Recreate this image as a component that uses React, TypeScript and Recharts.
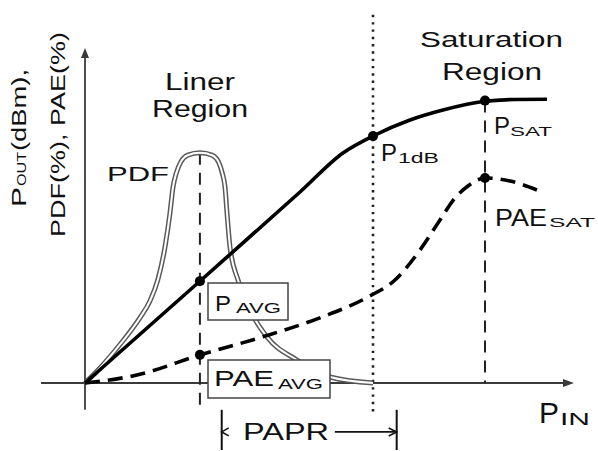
import React from "react";
import { ComposedChart, Line, XAxis, YAxis, ReferenceLine, ReferenceDot } from "recharts";

// Input power (x) in arbitrary units 0..100, output/efficiency/pdf (y) in arbitrary units 0..100
const poutX = [0, 23.31, 43.97, 52.76, 58.9, 66.46, 73.21, 81.39, 87.93, 94.48];
const poutY = [0, 30.15, 57.01, 68.66, 73.73, 78.51, 81.49, 84.03, 84.63, 84.69];

const paeX = [0, 10.63, 23.52, 36.2, 48.47, 57.87, 63.39, 68.51, 72.6, 75.66, 78.32, 81.8, 86.91, 92.43];
const paeY = [0, 2.39, 8.36, 13.73, 19.7, 25.67, 30.75, 39.7, 48.66, 55.22, 58.81, 61.19, 60.3, 57.61];

const pdfX = [0, 3.07, 7.16, 11.25, 13.29, 14.93, 16.36, 17.38, 18.0, 18.7, 19.6, 21.0, 23.52, 26.0, 27.3, 28.1, 28.63, 29.04, 29.65, 31.29, 33.74, 37.22, 43.35, 50.1, 58.9];
const pdfY = [0, 4.5, 11.5, 19.5, 24.5, 31.0, 40.6, 50.75, 58.5, 62.8, 66.0, 68.0, 68.7, 68.0, 66.0, 62.5, 58.5, 50.75, 40.6, 30.75, 21.79, 13.73, 6.87, 1.79, 0];

// marked points: P_AVG, PAE_AVG, P_1dB, P_SAT, PAE_SAT
const markerX = [23.5, 23.5, 58.9, 81.8, 81.8];
const markerY = [30.4, 8.4, 73.7, 84.3, 61.2];

const AVG_X = 23.5;
const P1DB_X = 58.9;
const SAT_X = 81.8;
const PDF_PEAK = 68.7;
const PAPR_FROM = 27.96;
const PAPR_TO = 63.74;

const zip = (xs: number[], ys: number[]) => xs.map((x, i) => ({ x, y: ys[i] }));
const poutData = zip(poutX, poutY);
const paeData = zip(paeX, paeY);
const pdfData = zip(pdfX, pdfY);

const FONT = "'Liberation Sans', Arial, Helvetica, sans-serif";
const INK = "#111";
const AXIS = "#3a3a3a";

const arrowRight = (p: any) => (
  <path d={`M${p.cx - 11},${p.cy - 4}L${p.cx},${p.cy}L${p.cx - 11},${p.cy + 4}Z`} fill={AXIS} />
);
const arrowUp = (p: any) => (
  <path d={`M${p.cx - 4},${p.cy + 10}L${p.cx},${p.cy}L${p.cx + 4},${p.cy + 10}Z`} fill={AXIS} />
);
const chevronLeft = (p: any) => (
  <path d={`M${p.cx + 7},${p.cy - 4}L${p.cx},${p.cy}L${p.cx + 7},${p.cy + 4}`} fill="none" stroke={INK} strokeWidth={1.6} />
);
const chevronRight = (p: any) => (
  <path d={`M${p.cx - 8},${p.cy - 4}L${p.cx},${p.cy}L${p.cx - 8},${p.cy + 4}`} fill="none" stroke={INK} strokeWidth={1.6} />
);

function T({ x, y, size, len, children }: any) {
  return (
    <text x={x} y={y} fontSize={size} textLength={len} lengthAdjust={len ? "spacingAndGlyphs" : undefined} fill={INK}>
      {children}
    </text>
  );
}

export default function App() {
  return (
    <div style={{ position: "relative", width: 598, height: 451, background: "#fff" }}>
      <style>{`body{margin:0}`}</style>
      <ComposedChart
        width={598}
        height={451}
        margin={{ top: 48, right: 24, bottom: 1, left: 36.1 }}
      >
        <XAxis dataKey="x" type="number" domain={[-10, 100]} allowDataOverflow hide />
        <YAxis type="number" domain={[-20, 100]} allowDataOverflow hide />

        {/* axes */}
        <ReferenceLine segment={[{ x: -9, y: 0 }, { x: 99, y: 0 }]} stroke={AXIS} strokeWidth={1.8} ifOverflow="visible" />
        <ReferenceLine segment={[{ x: 0, y: -8 }, { x: 0, y: 98 }]} stroke={AXIS} strokeWidth={1.8} ifOverflow="visible" />
        <ReferenceDot x={100} y={0} r={0} shape={arrowRight} ifOverflow="visible" />
        <ReferenceDot x={0} y={100} r={0} shape={arrowUp} ifOverflow="visible" />

        {/* guides */}
        <ReferenceLine segment={[{ x: AVG_X, y: PDF_PEAK }, { x: AVG_X, y: -8 }]} stroke="#222" strokeWidth={2} strokeDasharray="12 8" ifOverflow="visible" />
        <ReferenceLine segment={[{ x: SAT_X, y: markerY[3] }, { x: SAT_X, y: 0 }]} stroke="#222" strokeWidth={2} strokeDasharray="12 8" ifOverflow="visible" />
        <ReferenceLine segment={[{ x: P1DB_X, y: 109.9 }, { x: P1DB_X, y: -9 }]} stroke="#222" strokeWidth={2.6} strokeDasharray="2.4 4.9" ifOverflow="visible" />

        {/* PAPR bracket */}
        <ReferenceLine segment={[{ x: PAPR_FROM, y: -8 }, { x: PAPR_FROM, y: -20 }]} stroke={INK} strokeWidth={2} ifOverflow="visible" />
        <ReferenceLine segment={[{ x: PAPR_TO, y: -8 }, { x: PAPR_TO, y: -20 }]} stroke={INK} strokeWidth={2} ifOverflow="visible" />
        <ReferenceLine segment={[{ x: 51.1, y: -14.6 }, { x: PAPR_TO, y: -14.6 }]} stroke={INK} strokeWidth={1.6} ifOverflow="visible" />
        <ReferenceDot x={PAPR_FROM} y={-14.6} r={0} shape={chevronLeft} ifOverflow="visible" />
        <ReferenceDot x={PAPR_TO} y={-14.6} r={0} shape={chevronRight} ifOverflow="visible" />

        {/* PDF drawn as a double line */}
        <Line data={pdfData} dataKey="y" type="monotone" stroke="#5a5a5a" strokeWidth={5} dot={false} activeDot={false} isAnimationActive={false} />
        <Line data={pdfData} dataKey="y" type="monotone" stroke="#ffffff" strokeWidth={2} dot={false} activeDot={false} isAnimationActive={false} />
        <Line data={poutData} dataKey="y" type="monotone" stroke="#000" strokeWidth={3.6} dot={false} activeDot={false} isAnimationActive={false} />
        <Line data={paeData} dataKey="y" type="monotone" stroke="#000" strokeWidth={3.6} strokeDasharray="15 8" dot={false} activeDot={false} isAnimationActive={false} />

        {markerX.map((x, i) => (
          <ReferenceDot key={i} x={x} y={markerY[i]} r={5} fill="#000" stroke="none" ifOverflow="visible" />
        ))}
      </ComposedChart>

      <svg
        width={598}
        height={451}
        style={{ position: "absolute", left: 0, top: 0, pointerEvents: "none" }}
        fontFamily={FONT}
      >
        <T x={165} y={90} size={23} len={70}>Liner</T>
        <T x={152} y={117} size={23} len={96}>Region</T>
        <T x={420} y={47} size={22} len={143}>Saturation</T>
        <T x={442} y={80} size={23} len={100}>Region</T>
        <T x={107} y={181} size={21} len={62}>PDF</T>

        <T x={381} y={161} size={24} len={16}>P</T>
        <T x={398} y={163} size={15} len={41}>1dB</T>

        <T x={494} y={134} size={24} len={16}>P</T>
        <T x={510} y={136} size={13.5} len={42}>SAT</T>

        <T x={495} y={226} size={23} len={52}>PAE</T>
        <T x={549} y={227} size={13.5} len={46}>SAT</T>

        <rect x={208} y={283} width={80} height={37} fill="#fff" stroke="#444" strokeWidth={1.5} />
        <T x={215} y={311} size={22} len={16}>P</T>
        <T x={236} y={313} size={14.5} len={45}>AVG</T>

        <rect x={208} y={360} width={122} height={38} fill="#fff" stroke="#444" strokeWidth={1.5} />
        <T x={214} y={386} size={22} len={60}>PAE</T>
        <T x={278} y={389} size={14.5} len={45}>AVG</T>

        <T x={243} y={440} size={24} len={86}>PAPR</T>

        <T x={539} y={423} size={30} len={20}>P</T>
        <T x={560} y={425} size={17} len={30}>IN</T>

        <g transform="translate(26,207) rotate(-90)">
          <T x={0} y={0} size={21} len={20}>P</T>
          <T x={21} y={0} size={12} len={34}>OUT</T>
          <T x={56} y={0} size={21} len={82}>(dBm),</T>
        </g>
        <g transform="translate(65,237) rotate(-90)">
          <T x={0} y={0} size={21} len={205}>PDF(%), PAE(%)</T>
        </g>
      </svg>
    </div>
  );
}
